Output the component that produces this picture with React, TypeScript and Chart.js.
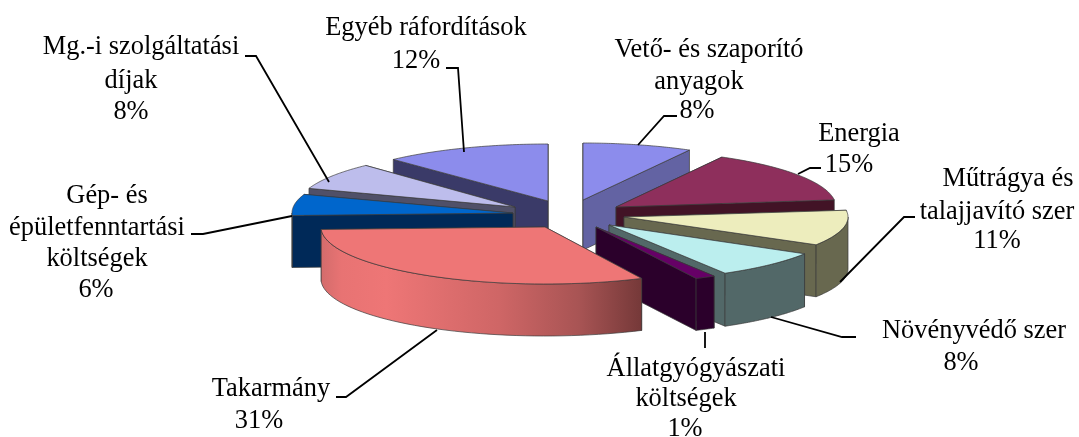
import React, { useEffect, useRef } from "react";
import { Chart, registerables } from "chart.js";

Chart.register(...registerables);

// ---- data ----
const categories = [
  "Vető- és szaporító anyagok",
  "Energia",
  "Műtrágya és talajjavító szer",
  "Növényvédő szer",
  "Állatgyógyászati költségek",
  "Takarmány",
  "Gép- és épületfenntartási költségek",
  "Mg.-i szolgáltatási díjak",
  "Egyéb ráfordítások",
];
const shares = [8, 15, 10.6, 7.9, 1.4, 31.4, 6, 7.7, 12];
const labelLines = [
  ["Vető- és szaporító", "anyagok"],
  ["Energia"],
  ["Műtrágya és", "talajjavító szer"],
  ["Növényvédő szer"],
  ["Állatgyógyászati", "költségek"],
  ["Takarmány"],
  ["Gép- és", "épületfenntartási", "költségek"],
  ["Mg.-i szolgáltatási", "díjak"],
  ["Egyéb ráfordítások"],
];

// ---- styles ----
const topColors = ["#8C8CEC", "#8E2F5C", "#EDEDBD", "#BBEEEE", "#660066", "#EE7676", "#0066CC", "#BDBDEC", "#8C8CEC"];
const sideColors = ["#6363A3", "#421326", "#68684F", "#526868", "#2B002B", "#B05A5A", "#002958", "#505068", "#3A3A68"];

// ---- layout: tip of each exploded slice and its ellipse radii ----
const sliceGeometry = [
  { tx: 583, ty: 200, rx: 221, ry: 57, depth: 50 },
  { tx: 616, ty: 207, rx: 220, ry: 57, depth: 50 },
  { tx: 624, ty: 217, rx: 224, ry: 54, depth: 52 },
  { tx: 609, ty: 225, rx: 228, ry: 56, depth: 53 },
  { tx: 596, ty: 227, rx: 232, ry: 57, depth: 52 },
  { tx: 545, ty: 227, rx: 224, ry: 57, depth: 52 },
  { tx: 513, ty: 213, rx: 221, ry: 57, depth: 52 },
  { tx: 515, ty: 207, rx: 218, ry: 57, depth: 50 },
  { tx: 548, ty: 201, rx: 226, ry: 57, depth: 50 },
];
const drawOrder = [0, 8, 7, 1, 6, 2, 3, 4, 5];

// one [x, y] per text line, the last one being the percentage
const labelLayout = [
  [[709, 50], [699, 82], [697, 111]],
  [[859, 134], [849, 165]],
  [[1008, 179], [997, 212], [997, 241]],
  [[974, 331], [961, 363]],
  [[696, 369], [686, 399], [685, 429]],
  [[271, 389], [259, 421]],
  [[107, 196], [97, 228], [97, 259], [96, 290]],
  [[141, 47], [131, 81], [131, 112]],
  [[426, 28], [416, 61]],
];
const leaders = [
  [[638, 145], [664, 116], [677, 116]],
  [[798, 174], [810, 168], [821, 168]],
  [[840, 282], [904, 217], [915, 217]],
  [[771, 317], [842, 337], [856, 337]],
  [[705, 332], [705, 348]],
  [[437, 330], [346, 397], [336, 397]],
  [[292, 216], [203, 234], [191, 234]],
  [[329, 182], [256, 56], [245, 56]],
  [[464, 152], [458, 68], [446, 68]],
];

const FONT = '26.4px "Liberation Serif", "Times New Roman", serif';
const OUTLINE = "#3b3b3b";

const pie3d = {
  id: "pie3d",
  beforeDatasetsDraw(chart: any) {
    const ctx = chart.ctx as CanvasRenderingContext2D;
    const arcs = chart.getDatasetMeta(0).data as any[];
    for (const i of drawOrder) {
      const arc = arcs[i];
      const g = sliceGeometry[i];
      const a0 = arc.startAngle as number;
      const a1 = arc.endAngle as number;
      const pt = (a: number, dz = 0): [number, number] => [
        g.tx + g.rx * Math.cos(a),
        g.ty + g.ry * Math.sin(a) + dz,
      ];
      const outline = (pts: [number, number][], fill: any) => {
        ctx.beginPath();
        pts.forEach((p, k) => (k ? ctx.lineTo(p[0], p[1]) : ctx.moveTo(p[0], p[1])));
        ctx.closePath();
        ctx.fillStyle = fill;
        ctx.fill();
        ctx.strokeStyle = OUTLINE;
        ctx.lineWidth = 0.7;
        ctx.stroke();
      };
      const tip: [number, number] = [g.tx, g.ty];
      const tipLow: [number, number] = [g.tx, g.ty + g.depth];
      const quad = (a: number): [number, number][] => [tip, pt(a), pt(a, g.depth), tipLow];

      // radial faces: the one whose outer end sits lower goes last
      const first = pt(a0)[1] > pt(a1)[1] ? a1 : a0;
      const second = first === a0 ? a1 : a0;
      outline(quad(first), sideColors[i]);
      outline(quad(second), sideColors[i]);

      // outer wall, front half only
      const wa = Math.max(a0, 0);
      const wb = Math.min(a1, Math.PI);
      if (wb > wa) {
        const upper: [number, number][] = [];
        const lower: [number, number][] = [];
        const steps = 48;
        for (let k = 0; k <= steps; k++) {
          const a = wa + ((wb - wa) * k) / steps;
          upper.push(pt(a));
          lower.unshift(pt(a, g.depth));
        }
        let fill: any = sideColors[i];
        if (i === 5) {
          const grad = ctx.createLinearGradient(322, 0, 643, 0);
          grad.addColorStop(0, "#D46C6C");
          grad.addColorStop(0.06, "#E87373");
          grad.addColorStop(0.2, "#EE7676");
          grad.addColorStop(0.55, "#CF6666");
          grad.addColorStop(0.8, "#A85454");
          grad.addColorStop(1, "#743838");
          fill = grad;
        }
        outline([...upper, ...lower], fill);
      }

      // top face: the library's own arc, squashed into place
      ctx.save();
      ctx.translate(g.tx, g.ty);
      ctx.scale(g.rx / arc.outerRadius, g.ry / arc.outerRadius);
      ctx.translate(-arc.x, -arc.y);
      arc.draw(ctx);
      ctx.restore();

      // top outline
      ctx.beginPath();
      ctx.moveTo(tip[0], tip[1]);
      for (let k = 0; k <= 48; k++) {
        const p = pt(a0 + ((a1 - a0) * k) / 48);
        ctx.lineTo(p[0], p[1]);
      }
      ctx.closePath();
      ctx.strokeStyle = OUTLINE;
      ctx.lineWidth = 0.7;
      ctx.stroke();
    }
    return false;
  },
  afterDraw(chart: any) {
    const ctx = chart.ctx as CanvasRenderingContext2D;
    ctx.save();
    ctx.strokeStyle = "#000";
    ctx.lineWidth = 1.8;
    for (const l of leaders) {
      ctx.beginPath();
      l.forEach((p, k) => (k ? ctx.lineTo(p[0], p[1]) : ctx.moveTo(p[0], p[1])));
      ctx.stroke();
    }
    ctx.fillStyle = "#000";
    ctx.font = FONT;
    ctx.textAlign = "center";
    ctx.textBaseline = "middle";
    labelLines.forEach((lines, i) => {
      const L = labelLayout[i];
      [...lines, `${Math.round(shares[i])}%`].forEach((t, k) => ctx.fillText(t, L[k][0], L[k][1]));
    });
    ctx.restore();
  },
};

export default function App() {
  const ref = useRef<HTMLCanvasElement>(null);
  useEffect(() => {
    document.body.style.margin = "0";
    document.body.style.background = "#fff";
    const chart = new Chart(ref.current as HTMLCanvasElement, {
      type: "pie",
      data: {
        labels: categories,
        datasets: [{ data: shares, backgroundColor: topColors, borderWidth: 0 }],
      },
      options: {
        responsive: false,
        animation: false,
        plugins: { legend: { display: false }, tooltip: { enabled: false } },
      },
      plugins: [pie3d as any],
    });
    return () => chart.destroy();
  }, []);
  return <canvas ref={ref} width={1079} height={437} style={{ display: "block" }} />;
}
